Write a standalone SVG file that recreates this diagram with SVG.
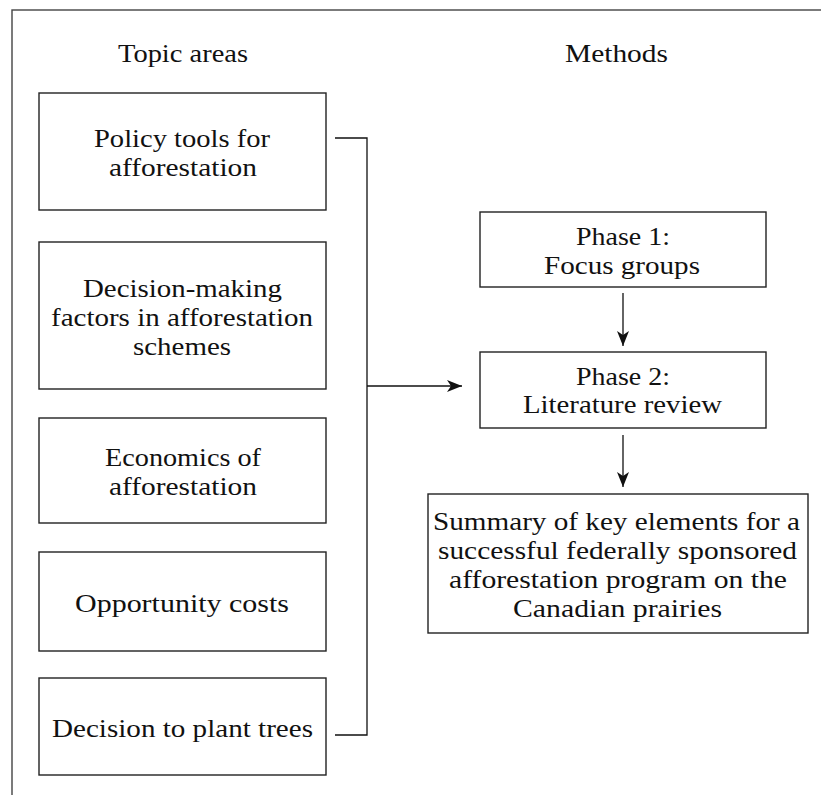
<svg xmlns="http://www.w3.org/2000/svg" width="821" height="795" viewBox="0 0 821 795">
<style>
.box{fill:#fff;stroke:#222;stroke-width:1.4}
.t{font-family:"Liberation Serif","DejaVu Serif",serif;font-size:26px;fill:#111;text-anchor:middle}
.c{fill:none;stroke:#111;stroke-width:1.3}
</style>
<defs>
<marker id="ah" markerWidth="16" markerHeight="12" refX="15" refY="6" orient="auto" markerUnits="userSpaceOnUse">
<path d="M0,0 L15,6 L0,12 L4,6 Z" fill="#111"/>
</marker>
</defs>
<rect width="821" height="795" fill="#fff"/>
<rect x="12" y="10" width="900" height="900" fill="none" stroke="#444" stroke-width="1.4"/>
<text class="t" x="183" y="62" textLength="130" lengthAdjust="spacingAndGlyphs">Topic areas</text>
<text class="t" x="616.5" y="62" textLength="103" lengthAdjust="spacingAndGlyphs">Methods</text>
<g id="policy"><rect class="box" x="39" y="93" width="287" height="117"/><text class="t" x="182" y="147" textLength="176" lengthAdjust="spacingAndGlyphs">Policy tools for</text><text class="t" x="183" y="176" textLength="148" lengthAdjust="spacingAndGlyphs">afforestation</text></g>
<g id="decisionmaking"><rect class="box" x="39" y="242" width="287" height="147"/><text class="t" x="182.5" y="297" textLength="199" lengthAdjust="spacingAndGlyphs">Decision-making</text><text class="t" x="182" y="326" textLength="262" lengthAdjust="spacingAndGlyphs">factors in afforestation</text><text class="t" x="182" y="355" textLength="98" lengthAdjust="spacingAndGlyphs">schemes</text></g>
<g id="economics"><rect class="box" x="39" y="418" width="287" height="105"/><text class="t" x="183" y="466" textLength="156" lengthAdjust="spacingAndGlyphs">Economics of</text><text class="t" x="183" y="495" textLength="148" lengthAdjust="spacingAndGlyphs">afforestation</text></g>
<g id="opportunity"><rect class="box" x="39" y="552" width="287" height="99"/><text class="t" x="182" y="612" textLength="214" lengthAdjust="spacingAndGlyphs">Opportunity costs</text></g>
<g id="decisionplant"><rect class="box" x="39" y="678" width="287" height="97"/><text class="t" x="182.5" y="737" textLength="261" lengthAdjust="spacingAndGlyphs">Decision to plant trees</text></g>
<g id="phase1"><rect class="box" x="480" y="212" width="286" height="75"/><text class="t" x="623" y="245" textLength="94" lengthAdjust="spacingAndGlyphs">Phase 1:</text><text class="t" x="622" y="274" textLength="156" lengthAdjust="spacingAndGlyphs">Focus groups</text></g>
<g id="phase2"><rect class="box" x="480" y="352" width="286" height="76"/><text class="t" x="623" y="385" textLength="94" lengthAdjust="spacingAndGlyphs">Phase 2:</text><text class="t" x="622.5" y="413" textLength="199" lengthAdjust="spacingAndGlyphs">Literature review</text></g>
<g id="summary"><rect class="box" x="428" y="494" width="380" height="139"/><text class="t" x="616.5" y="530" textLength="367" lengthAdjust="spacingAndGlyphs">Summary of key elements for a</text><text class="t" x="617.5" y="559" textLength="359" lengthAdjust="spacingAndGlyphs">successful federally sponsored</text><text class="t" x="618" y="588" textLength="338" lengthAdjust="spacingAndGlyphs">afforestation program on the</text><text class="t" x="617.5" y="617" textLength="209" lengthAdjust="spacingAndGlyphs">Canadian prairies</text></g>
<g id="connectors">
<path class="c" d="M335,138 H367 V735 H335"/>
<path class="c" d="M367,386 H462" marker-end="url(#ah)"/>
<path class="c" d="M623,293 V346" marker-end="url(#ah)"/>
<path class="c" d="M623,435 V487" marker-end="url(#ah)"/>
</g>
</svg>
